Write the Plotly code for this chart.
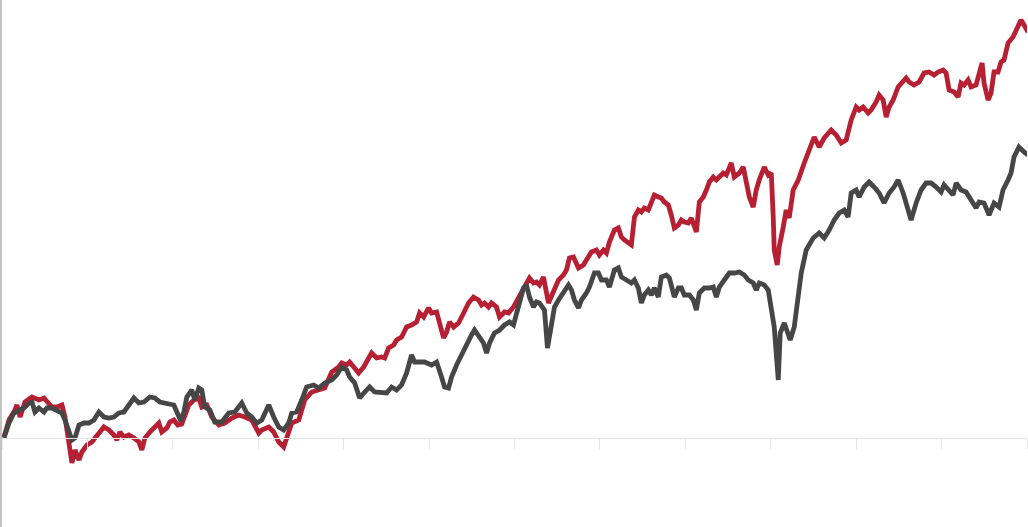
import plotly.graph_objects as go

START_YEAR = 2011

# Red series: time (years since start) and cumulative return (%)
t_red = [0.023, 0.082, 0.152, 0.175, 0.211, 0.269, 0.351, 0.433, 0.491, 0.550, 0.585, 0.643, 0.702, 0.737,
         0.784, 0.819, 0.854, 0.901, 0.936, 0.994, 1.053, 1.135, 1.193, 1.251, 1.310, 1.345, 1.380, 1.427,
         1.485, 1.544, 1.602, 1.637, 1.673, 1.731, 1.789, 1.836, 1.871, 1.930, 1.965, 2.012, 2.058, 2.105,
         2.187, 2.246, 2.304, 2.339, 2.398, 2.456, 2.538, 2.608, 2.690, 2.772, 2.842, 2.924, 3.006, 3.041,
         3.123, 3.181, 3.240, 3.298, 3.333, 3.392, 3.474, 3.544, 3.626, 3.708, 3.778, 3.860, 3.942, 3.977,
         4.035, 4.070, 4.117, 4.175, 4.234, 4.292, 4.327, 4.386, 4.444, 4.480, 4.526, 4.585, 4.620, 4.678,
         4.737, 4.795, 4.854, 4.889, 4.936, 4.994, 5.029, 5.088, 5.123, 5.170, 5.205, 5.240, 5.287, 5.345,
         5.404, 5.462, 5.520, 5.579, 5.614, 5.649, 5.696, 5.731, 5.789, 5.825, 5.883, 5.930, 5.988, 6.023,
         6.082, 6.140, 6.175, 6.222, 6.257, 6.292, 6.339, 6.398, 6.456, 6.515, 6.573, 6.608, 6.643, 6.690,
         6.749, 6.807, 6.842, 6.901, 6.959, 6.994, 7.041, 7.076, 7.111, 7.170, 7.216, 7.251, 7.287, 7.333,
         7.368, 7.404, 7.450, 7.485, 7.520, 7.567, 7.602, 7.637, 7.684, 7.719, 7.754, 7.801, 7.836, 7.871,
         7.918, 7.953, 7.988, 8.035, 8.070, 8.105, 8.129, 8.164, 8.211, 8.246, 8.281, 8.327, 8.363, 8.398,
         8.444, 8.480, 8.538, 8.573, 8.632, 8.678, 8.713, 8.749, 8.795, 8.830, 8.865, 8.924, 8.971, 9.006,
         9.029, 9.041, 9.076, 9.099, 9.146, 9.181, 9.216, 9.263, 9.322, 9.357, 9.392, 9.450, 9.509, 9.567,
         9.626, 9.708, 9.766, 9.825, 9.883, 9.942, 10.000, 10.035, 10.082, 10.140, 10.175, 10.234, 10.269,
         10.316, 10.351, 10.386, 10.433, 10.491, 10.526, 10.585, 10.620, 10.678, 10.737, 10.795, 10.854,
         10.912, 10.959, 11.018, 11.053, 11.088, 11.146, 11.193, 11.228, 11.263, 11.310, 11.345, 11.404,
         11.439, 11.474, 11.497, 11.544, 11.579, 11.614, 11.661, 11.696, 11.731, 11.778, 11.836, 11.895,
         11.930, 11.965, 12.012]
v_red = [0.5, 9, 14, 16.5, 10.5, 18, 20.5, 19, 20, 17.5, 15.5, 15.5, 16.5, 10.5,
         -4.5, -12.5, -6, -11, -7, -3.5, -2, 2.5, 5.5, 4, 1.5, -1, 3, 0.5,
         1.5, 0, -2, -6, 0, 3, 5.5, 7.5, 3, 5, 8, 9, 6.5, 7,
         16.5, 19, 20, 15.5, 16.5, 10.5, 6.5, 7.5, 10, 11.5, 10.5, 9, 2.5, 4,
         5.5, 3, -2, -4.5, 0, 7.5, 9, 19, 23, 24, 25, 33, 35.5, 37.5,
         36.5, 38, 35.5, 32.5, 35.5, 40, 42.5, 40, 40.5, 40, 45, 46.5, 49, 50.5,
         55.5, 56.5, 58, 62.5, 60.5, 65, 62.5, 63, 57.5, 50, 53, 58, 55.5, 57.5,
         62.5, 67.5, 70.5, 69, 66.5, 67.5, 65.5, 67.5, 65.5, 60.5, 63, 62.5, 65.5, 68,
         72.5, 76.5, 80, 77.5, 78, 76.5, 80.5, 67.5, 74, 79, 81.5, 84, 90, 90.5,
         85, 86.5, 89, 93, 94, 91.5, 94, 92.5, 98, 104, 105, 100.5, 99, 97.5,
         96.5, 110.5, 114, 113, 115, 114, 118, 121.5, 120.5, 120, 118, 116.5, 111.5, 105,
         106.5, 109, 108, 107.5, 110, 106.5, 103, 118, 120.5, 124, 128, 130.5, 129, 130.5,
         132.5, 131.5, 137.5, 130.5, 132.5, 135.5, 127.5, 120.5, 115.5, 124, 129, 135.5, 131.5, 132.5,
         110.5, 94, 86.5, 95.5, 105.5, 114, 110, 124, 129, 132.5, 137.5, 144, 150.5, 145.5,
         150, 154, 151.5, 147.5, 149, 159, 165.5, 164, 165.5, 162.5, 164, 168, 171.5,
         169, 160.5, 165.5, 169, 175.5, 177.5, 180, 178, 176.5, 178, 182.5, 183,
         181.5, 183, 184, 182.5, 174, 173, 170.5, 177.5, 176.5, 179, 175.5, 176.5,
         183, 187.5, 177.5, 169, 172.5, 183, 183, 188, 189, 197.5, 200.5, 205.5,
         209, 206.5, 203]

# Gray series
t_gray = [0.023, 0.082, 0.140, 0.199, 0.257, 0.316, 0.351, 0.386, 0.433, 0.491, 0.526, 0.585, 0.643, 0.702,
          0.737, 0.784, 0.819, 0.854, 0.901, 0.959, 1.018, 1.076, 1.135, 1.193, 1.251, 1.310, 1.368, 1.427,
          1.497, 1.544, 1.602, 1.661, 1.731, 1.789, 1.848, 1.906, 1.965, 2.012, 2.047, 2.094, 2.129, 2.164,
          2.222, 2.257, 2.304, 2.339, 2.374, 2.433, 2.491, 2.573, 2.655, 2.725, 2.807, 2.865, 2.924, 2.982,
          3.041, 3.123, 3.181, 3.240, 3.298, 3.357, 3.392, 3.450, 3.509, 3.567, 3.649, 3.708, 3.778, 3.860,
          3.918, 3.977, 4.035, 4.070, 4.129, 4.187, 4.246, 4.304, 4.363, 4.444, 4.503, 4.561, 4.620, 4.678,
          4.737, 4.795, 4.830, 4.877, 4.947, 5.029, 5.088, 5.146, 5.181, 5.228, 5.263, 5.322, 5.380, 5.439,
          5.497, 5.532, 5.579, 5.637, 5.673, 5.708, 5.766, 5.825, 5.883, 5.942, 5.988, 6.023, 6.058, 6.105,
          6.140, 6.175, 6.222, 6.257, 6.292, 6.351, 6.386, 6.433, 6.468, 6.515, 6.573, 6.632, 6.667, 6.702,
          6.749, 6.784, 6.842, 6.877, 6.936, 6.982, 7.018, 7.076, 7.111, 7.170, 7.216, 7.251, 7.310, 7.368,
          7.404, 7.450, 7.485, 7.520, 7.567, 7.602, 7.637, 7.684, 7.719, 7.778, 7.813, 7.871, 7.918, 7.953,
          7.988, 8.047, 8.094, 8.129, 8.164, 8.222, 8.281, 8.327, 8.363, 8.398, 8.456, 8.515, 8.573, 8.632,
          8.690, 8.737, 8.795, 8.830, 8.865, 8.924, 8.971, 9.006, 9.041, 9.088, 9.111, 9.158, 9.205, 9.228,
          9.275, 9.322, 9.357, 9.415, 9.497, 9.567, 9.626, 9.684, 9.743, 9.801, 9.860, 9.906, 9.942, 10.000,
          10.035, 10.094, 10.152, 10.211, 10.269, 10.327, 10.386, 10.444, 10.491, 10.550, 10.608, 10.643,
          10.702, 10.760, 10.819, 10.877, 10.936, 10.994, 11.029, 11.076, 11.135, 11.170, 11.228, 11.287,
          11.345, 11.404, 11.439, 11.497, 11.556, 11.614, 11.673, 11.719, 11.778, 11.813, 11.848, 11.906,
          11.965, 12.012]
v_gray = [0, 7.5, 12.5, 14, 15, 17.5, 18, 13, 15, 13, 15, 15, 14, 12.5,
          9, 4, -1, 0, 6.5, 7.5, 7.5, 9, 13, 10.5, 10, 10.5, 12.5, 13,
          17.5, 20, 17.5, 18, 20.5, 20, 18, 17.5, 16.5, 16.5, 13, 8.5, 13, 20.5,
          24, 19, 25, 24, 15.5, 14, 8, 8, 12.5, 13, 17.5, 12.5, 10.5, 7.5,
          9, 16.5, 10.5, 5.5, 4, 7.5, 12.5, 13, 19, 25.5, 26.5, 25, 27.5, 29,
          31.5, 35.5, 34, 30.5, 27.5, 20, 23, 25.5, 23, 22.5, 22.5, 25.5, 24, 26.5,
          32.5, 41.5, 38, 38, 38, 36.5, 38, 30.5, 25.5, 25, 30.5, 36.5, 41.5, 47.5,
          51.5, 54, 51.5, 47.5, 42.5, 47.5, 52.5, 54, 56.5, 58, 56.5, 62.5, 66.5, 75,
          76.5, 70.5, 65.5, 68, 67.5, 64, 45, 57.5, 65.5, 69, 72.5, 76.5, 74, 69,
          65, 69, 72.5, 75.5, 82.5, 82.5, 79, 79, 75.5, 84, 85, 80.5, 79, 77.5,
          79, 75, 67.5, 71.5, 74, 71.5, 75, 70.5, 80.5, 81.5, 80, 70.5, 75, 75,
          71.5, 71.5, 69, 64, 72.5, 75, 75, 75.5, 70.5, 75.5, 79, 82.5, 82.5, 83,
          81.5, 79, 77.5, 74, 77.5, 76.5, 74, 65.5, 55.5, 29, 52.5, 57.5, 52.5, 49,
          55.5, 69, 82.5, 94, 100, 102.5, 100, 104, 109, 112.5, 114, 110.5, 122.5, 124,
          120.5, 125.5, 128, 125.5, 122.5, 117.5, 122.5, 125.5, 129, 122.5, 114, 109,
          117.5, 124, 127.5, 127.5, 125.5, 123, 126.5, 124, 121.5, 127.5, 124, 123,
          119, 115, 118, 117.5, 111.5, 117.5, 115.5, 124, 129, 132.5, 140.5, 145.5,
          143, 141.5]

x_red = [START_YEAR + t for t in t_red]
x_gray = [START_YEAR + t for t in t_gray]

RED = "#b71f33"
GRAY = "#464646"

fig = go.Figure()
fig.add_trace(go.Scatter(x=x_red, y=v_red, mode="lines",
                         line=dict(color=RED, width=4.8), showlegend=False, hoverinfo="skip"))
fig.add_trace(go.Scatter(x=x_gray, y=v_gray, mode="lines",
                         line=dict(color=GRAY, width=4.8), showlegend=False, hoverinfo="skip"))

fig.update_layout(
    width=1028, height=527,
    margin=dict(l=2, r=1, t=0, b=0),
    paper_bgcolor="white", plot_bgcolor="white",
    showlegend=False,
    xaxis=dict(range=[2011, 2023], tick0=2011, dtick=1, showticklabels=False,
               ticks="outside", ticklen=10, tickcolor="#e6e6e6", tickwidth=1,
               showline=True, linecolor="#e6e6e6", linewidth=1,
               showgrid=False, zeroline=False,
               anchor="free", position=89 / 527),
    yaxis=dict(range=[-44.5, 219], showticklabels=False, ticks="",
               showline=True, linecolor="#c4c4c4", linewidth=2,
               showgrid=False, zeroline=False),
)

fig.write_html("out.html",
               config={"displayModeBar": False},
               post_script="document.body.style.margin='0';document.body.style.overflow='hidden';")
